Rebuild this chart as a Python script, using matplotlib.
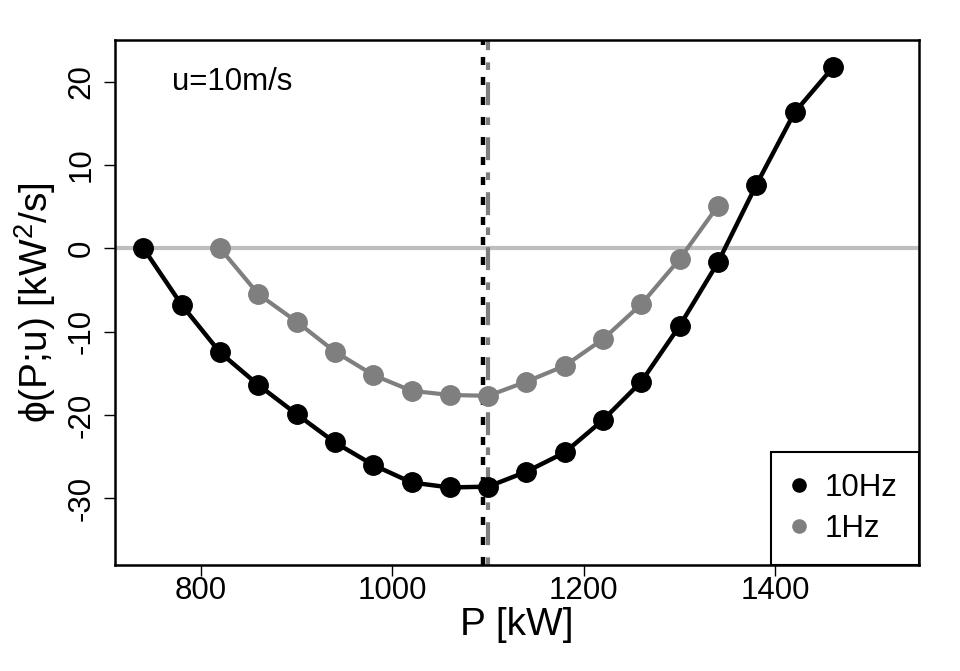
import matplotlib
matplotlib.use("Agg")
import matplotlib.pyplot as plt

plt.rcParams['font.family'] = ['Liberation Sans', 'DejaVu Sans']
plt.rcParams['mathtext.fontset'] = 'custom'
plt.rcParams['mathtext.rm'] = 'Liberation Sans'
plt.rcParams['mathtext.it'] = 'Liberation Sans'
plt.rcParams['lines.scale_dashes'] = False

# Data
p_10hz = [740, 780, 820, 860, 900, 940, 980, 1020, 1060, 1100, 1140, 1180,
          1220, 1260, 1300, 1340, 1380, 1420, 1460]
phi_10hz = [0.0, -6.8, -12.5, -16.4, -19.9, -23.3, -26.0, -28.1, -28.7, -28.6,
            -26.8, -24.5, -20.6, -16.0, -9.3, -1.7, 7.6, 16.3, 21.7]
p_1hz = [820, 860, 900, 940, 980, 1020, 1060, 1100, 1140, 1180, 1220, 1260,
         1300, 1340]
phi_1hz = [0.0, -5.5, -8.8, -12.4, -15.2, -17.1, -17.6, -17.7, -16.0, -14.1,
           -10.9, -6.7, -1.3, 5.1]
vline_10hz = 1094.5
vline_1hz = 1100
xticks = [800, 1000, 1200, 1400]
yticks = [-30, -20, -10, 0, 10, 20]

FS = 22.5
fig = plt.figure(figsize=(9.6, 6.71), dpi=100)
ax = fig.add_axes([0.1195, 0.158, 0.8378, 0.7824])

ax.axhline(0, color='#BEBEBE', lw=3, zorder=1)
ax.axvline(vline_10hz, color='black', lw=3.2, dashes=(5.8, 8.6), zorder=2)
ax.axvline(vline_1hz, color='#7F7F7F', lw=3, dashes=(5.5, 8.8, 16.5, 8.8), zorder=2)

ax.plot(p_1hz, phi_1hz, color='#7F7F7F', lw=3.0, marker='o', ms=14, zorder=3)
ax.plot(p_10hz, phi_10hz, color='black', lw=3.2, marker='o', ms=14, zorder=4)

# legend handles (markers only)
h1, = ax.plot([], [], ls='none', marker='o', color='black', ms=9.5, label='10Hz')
h2, = ax.plot([], [], ls='none', marker='o', color='#7F7F7F', ms=9.5, label='1Hz')
leg = ax.legend(handles=[h1, h2], loc='lower right', fontsize=FS,
                borderaxespad=0, borderpad=0.68, labelspacing=0.33,
                handlelength=0.45, handletextpad=0.6, fancybox=False,
                framealpha=1, edgecolor='black')
leg.get_frame().set_linewidth(1.5)

ax.text(770, 20, 'u=10m/s', fontsize=FS, ha='left', va='center')

ax.set_xlim(710, 1550)
ax.set_ylim(-38, 25)
ax.set_xticks(xticks)
ax.set_yticks(yticks)
ax.set_yticklabels([str(v) for v in yticks], rotation=90, va='center')
ax.tick_params(axis='both', labelsize=FS, length=8, width=1, direction='out')
ax.tick_params(axis='x', pad=0)
ax.tick_params(axis='y', pad=5)
for s in ax.spines.values():
    s.set_linewidth(1.8)

ax.set_xlabel('P [kW]', fontsize=28, labelpad=1)
ax.set_ylabel('\u03d5(P;u) [kW$^2$/s]', fontsize=28, labelpad=6)

fig.savefig('out.png', dpi=100)
